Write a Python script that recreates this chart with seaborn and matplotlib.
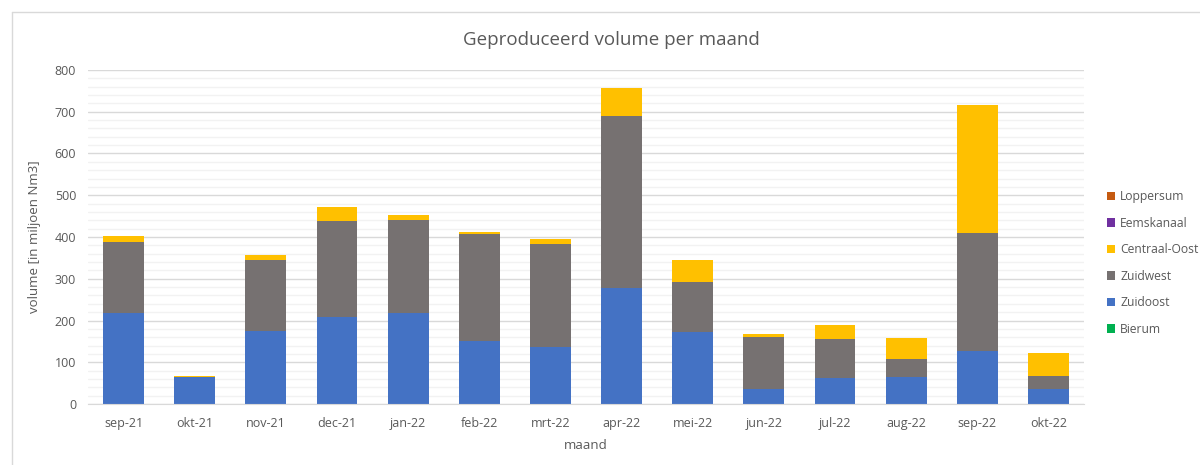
import matplotlib
matplotlib.use("Agg")
import matplotlib.pyplot as plt
from matplotlib.lines import Line2D
from matplotlib.patches import Patch
import seaborn as sns
import pandas as pd
import numpy as np

months = ["sep-21", "okt-21", "nov-21", "dec-21", "jan-22", "feb-22", "mrt-22",
          "apr-22", "mei-22", "jun-22", "jul-22", "aug-22", "sep-22", "okt-22"]
bierum = [0, 0, 0, 0, 0, 0, 0, 0, 0, 0, 0, 0, 0, 0]
zuidoost = [218, 65, 175, 209, 218, 152, 136, 278, 172, 37, 62, 65, 127, 37]
zuidwest = [170, 0, 169, 229, 223, 254, 247, 413, 121, 123, 93, 43, 283, 31]
centraal_oost = [15, 3, 13, 34, 12, 6, 13, 67, 51, 7, 35, 51, 305, 53]
eemskanaal = [0, 0, 0, 0, 0, 0, 0, 0, 0, 0, 0, 0, 0, 0]
loppersum = [0, 0, 0, 0, 0, 0, 0, 0, 0, 0, 0, 0, 0, 0]

series_names = ["Bierum", "Zuidoost", "Zuidwest", "Centraal-Oost", "Eemskanaal", "Loppersum"]
series_vals = [bierum, zuidoost, zuidwest, centraal_oost, eemskanaal, loppersum]
colors = {"Bierum": "#00B050", "Zuidoost": "#4472C4", "Zuidwest": "#767171",
          "Centraal-Oost": "#FFC000", "Eemskanaal": "#7030A0", "Loppersum": "#C55A11"}

sns.set_style("white")
plt.rcParams["font.family"] = ["Open Sans", "DejaVu Sans"]
txt = "#595959"

fig = plt.figure(figsize=(12, 4.65), dpi=100)
ax = fig.add_axes([88 / 1200, (465 - 404) / 465, (1084 - 88) / 1200, (404 - 70) / 465])

bottom = np.zeros(len(months))
for name, vals in zip(series_names, series_vals):
    df = pd.DataFrame({"maand": months, "v": vals})
    sns.barplot(data=df, x="maand", y="v", color=colors[name], bottom=bottom,
                width=0.575, ax=ax, linewidth=0, saturation=1)
    bottom = bottom + np.array(vals, dtype=float)

ax.set_ylim(0, 800)
ax.set_xlim(-0.5, len(months) - 0.5)
ax.set_yticks(np.arange(0, 801, 100))
ax.set_yticks(np.arange(0, 801, 20), minor=True)
ax.yaxis.grid(True, which="major", color="#D9D9D9", linewidth=1)
ax.yaxis.grid(True, which="minor", color="#F2F2F2", linewidth=1)
ax.set_axisbelow(True)
for s in ["top", "right", "left"]:
    ax.spines[s].set_visible(False)
ax.spines["bottom"].set_color("#D9D9D9")
ax.tick_params(axis="both", which="both", length=0, colors=txt, labelsize=9)
ax.tick_params(axis="x", pad=9)
ax.tick_params(axis="y", pad=8.5)
ax.set_xlabel("maand", color=txt, fontsize=9.5, labelpad=7)
ax.set_ylabel("volume [in miljoen Nm3]", color=txt, fontsize=9.5, labelpad=10)
fig.text(611 / 1200, 1 - 40 / 465, "Geproduceerd volume per maand", ha="center",
         va="center", color=txt, fontsize=13.5)

handles = [Patch(facecolor=colors[n], edgecolor="none") for n in series_names[::-1]]
leg = fig.legend(handles, series_names[::-1], loc="center left",
                 bbox_to_anchor=(1096 / 1200, 1 - 263 / 465), frameon=False,
                 fontsize=8.7, handlelength=0.7, handleheight=0.7, handletextpad=0.4,
                 labelspacing=1.12, labelcolor=txt)

fig.add_artist(Line2D([12 / 1200, 12 / 1200], [0, 1 - 12 / 465], color="#D9D9D9", lw=1))
fig.add_artist(Line2D([12 / 1200, 1], [1 - 12 / 465, 1 - 12 / 465], color="#D9D9D9", lw=1))

fig.savefig("out.png", dpi=100, facecolor="white")
